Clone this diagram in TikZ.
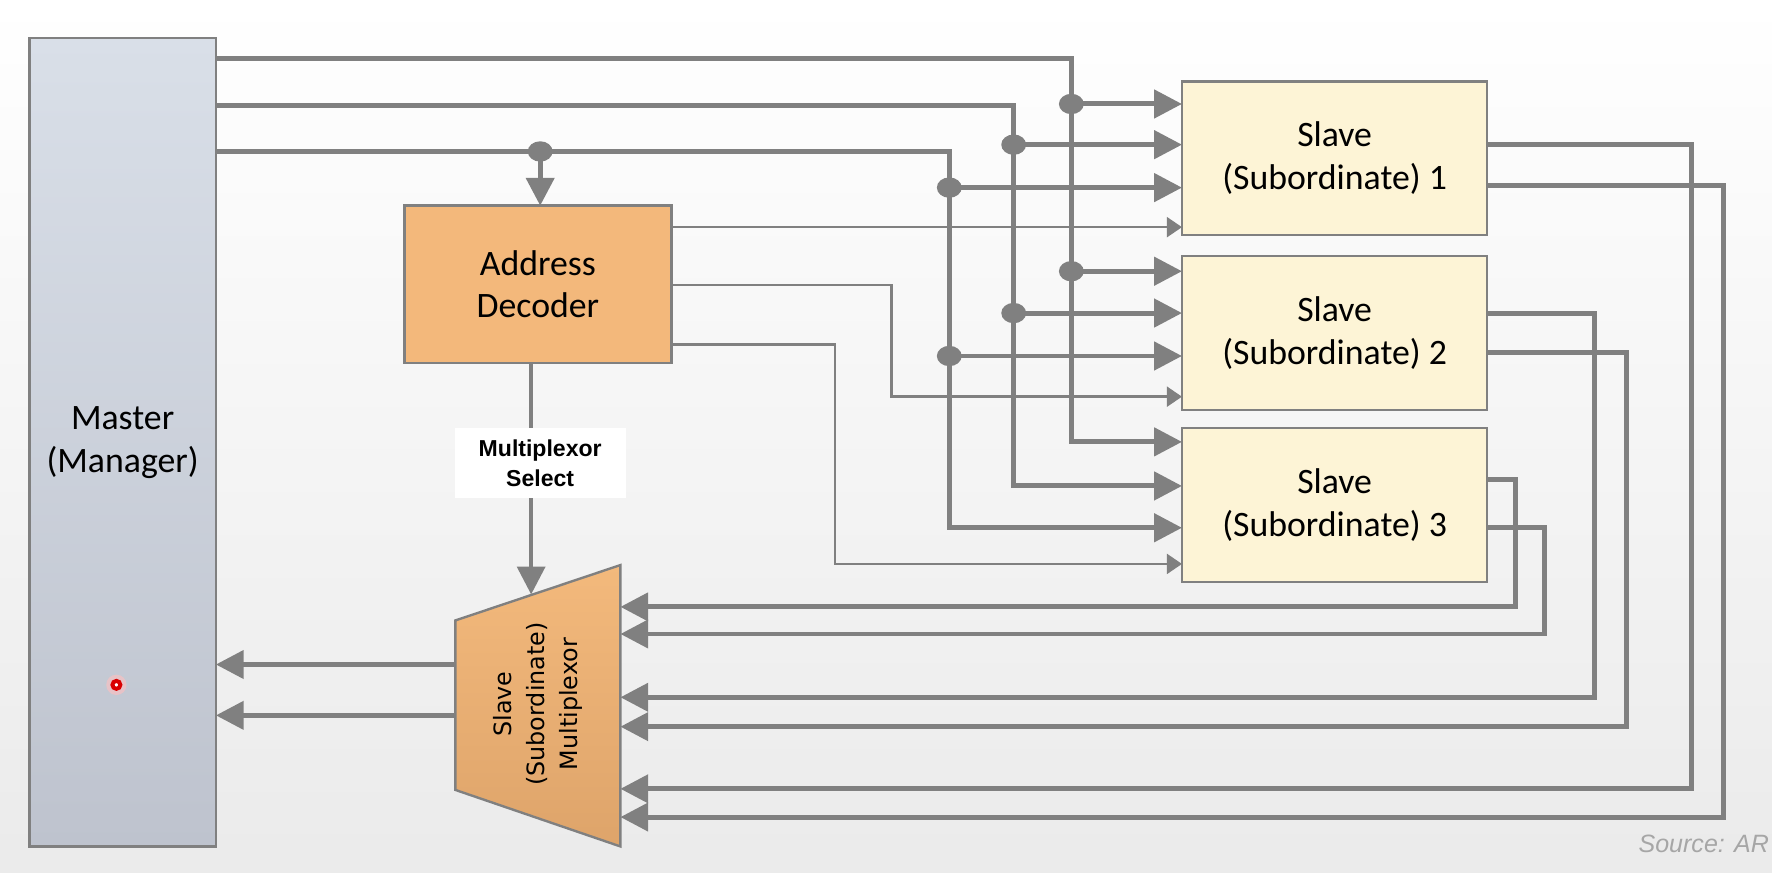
\documentclass[tikz,border=0pt]{standalone}
\usepackage{fontspec}
\setmainfont{Carlito}
\newfontfamily\selfont{Liberation Sans}
\newfontfamily\muxfont{DejaVu Sans}
\usetikzlibrary{arrows.meta,positioning}
\definecolor{busgray}{RGB}{128,128,128}
\definecolor{mastertop}{RGB}{217,223,232}
\definecolor{masterbot}{RGB}{190,195,206}
\definecolor{decfill}{RGB}{243,184,123}
\definecolor{muxtop}{RGB}{243,185,124}
\definecolor{muxbot}{RGB}{222,164,106}
\definecolor{slavefill}{RGB}{253,244,214}

\begin{document}
\begin{tikzpicture}[x=0.01cm,y=-0.01cm,
  box/.style={draw=busgray,line width=0.6pt,inner sep=0pt,outer sep=0pt,align=center,
    font=\fontsize{9}{10.8}\selectfont},
  bus/.style={draw=busgray,line width=1.25pt},
  busarrow/.style={bus,-{Triangle[length=7pt,width=7pt]}},
  selarrow/.style={draw=busgray,line width=0.65pt,-{Triangle[length=3.8pt,width=5pt]}}]
  % background
  \shade[top color=white,middle color=gray!3,bottom color=gray!16] (0,0) rectangle (1568,772);
  \useasboundingbox (0,0) rectangle (1568,772);
  % blocks
  \node[box,top color=mastertop,bottom color=masterbot,minimum width=1.65cm,minimum height=7.15cm]
    (master) at (108.5,391.5) {Master\\(Manager)};
  \node[box,fill=decfill,minimum width=2.36cm,minimum height=1.39cm] (dec) at (476,251.5) {Address\\Decoder};
  \node[box,fill=slavefill,minimum width=2.7cm,minimum height=1.36cm] (s1) at (1181,140) {Slave\\(Subordinate) 1};
  \node[box,fill=slavefill,minimum width=2.7cm,minimum height=1.36cm] (s2) at (1181,294.5) {Slave\\(Subordinate) 2};
  \node[box,fill=slavefill,minimum width=2.7cm,minimum height=1.36cm] (s3) at (1181,447) {Slave\\(Subordinate) 3};
  \draw[busgray,line width=0.6pt,top color=muxtop,bottom color=muxbot]
    (403,549) -- (549,500) -- (549,749) -- (403,699) -- cycle;
  \node[align=center,rotate=90,inner sep=0pt,font=\muxfont\fontsize{6}{8.2}\selectfont]
    (mux) at (476,623) {Slave\\(Subordinate)\\Multiplexor};
  \coordinate (muxl) at (403,623);
  \coordinate (muxr) at (549,623);
  \coordinate (muxsel) at (470,526);
  % master buses to the slaves
  \foreach \yt/\xv/\yb/\yi/\yii in {52/948/391/92/240,93/897/430/128/277,134/840/467/166/315}{
    \draw[busarrow] (master.east |- 0,\yt) -| (\xv,\yb) -- (s3.west |- 0,\yb);
    \fill[busgray] (\xv,\yi) ellipse (11 and 9);
    \fill[busgray] (\xv,\yii) ellipse (11 and 9);
    \draw[busarrow] (\xv,\yi) -- (s1.west |- 0,\yi);
    \draw[busarrow] (\xv,\yii) -- (s2.west |- 0,\yii);
  }
  \fill[busgray] (478,134) ellipse (11 and 9);
  \draw[busarrow] (478,134) -- (dec.north -| 478,0);
  % decoder selects
  \draw[selarrow] (dec.east |- 0,201) -- (s1.west |- 0,201);
  \draw[selarrow] (dec.east |- 0,252) -| (789,351) -- (s2.west |- 0,351);
  \draw[selarrow] (dec.east |- 0,305) -| (739,499) -- (s3.west |- 0,499);
  \draw[busgray,line width=1pt,-{Triangle[length=7pt,width=7pt]}] (dec.south -| 470,0) -- (muxsel);
  \node[fill=white,align=center,inner xsep=6pt,inner ysep=3pt,
    font=\selfont\bfseries\fontsize{5.8}{7.4}\selectfont] (sellabel) at (478,410) {Multiplexor\\Select};
  % slave outputs back to the multiplexor
  \foreach \s/\yo/\xv/\ym in {s1/128/1497/698,s1/164/1525/723,s2/277/1411/617,
    s2/312/1439/643,s3/424/1341/537,s3/467/1367/561}
    \draw[busarrow] (\s.east |- 0,\yo) -| (\xv,\ym) -- (muxr |- 0,\ym);
  \foreach \y in {588,633}
    \draw[busarrow] (muxl |- 0,\y) -- (master.east |- 0,\y);
  % pointer and source note
  \fill[red!25,opacity=0.6] (103,606) circle (9);
  \draw[red!85!black,line width=1pt,fill=white] (103,606) circle (3.5);
  \node[anchor=base east,inner sep=0pt,text=gray!70,font=\selfont\itshape\fontsize{6.3}{8}\selectfont]
    (source) at (1566,754) {Source: AR};
\end{tikzpicture}
\end{document}
